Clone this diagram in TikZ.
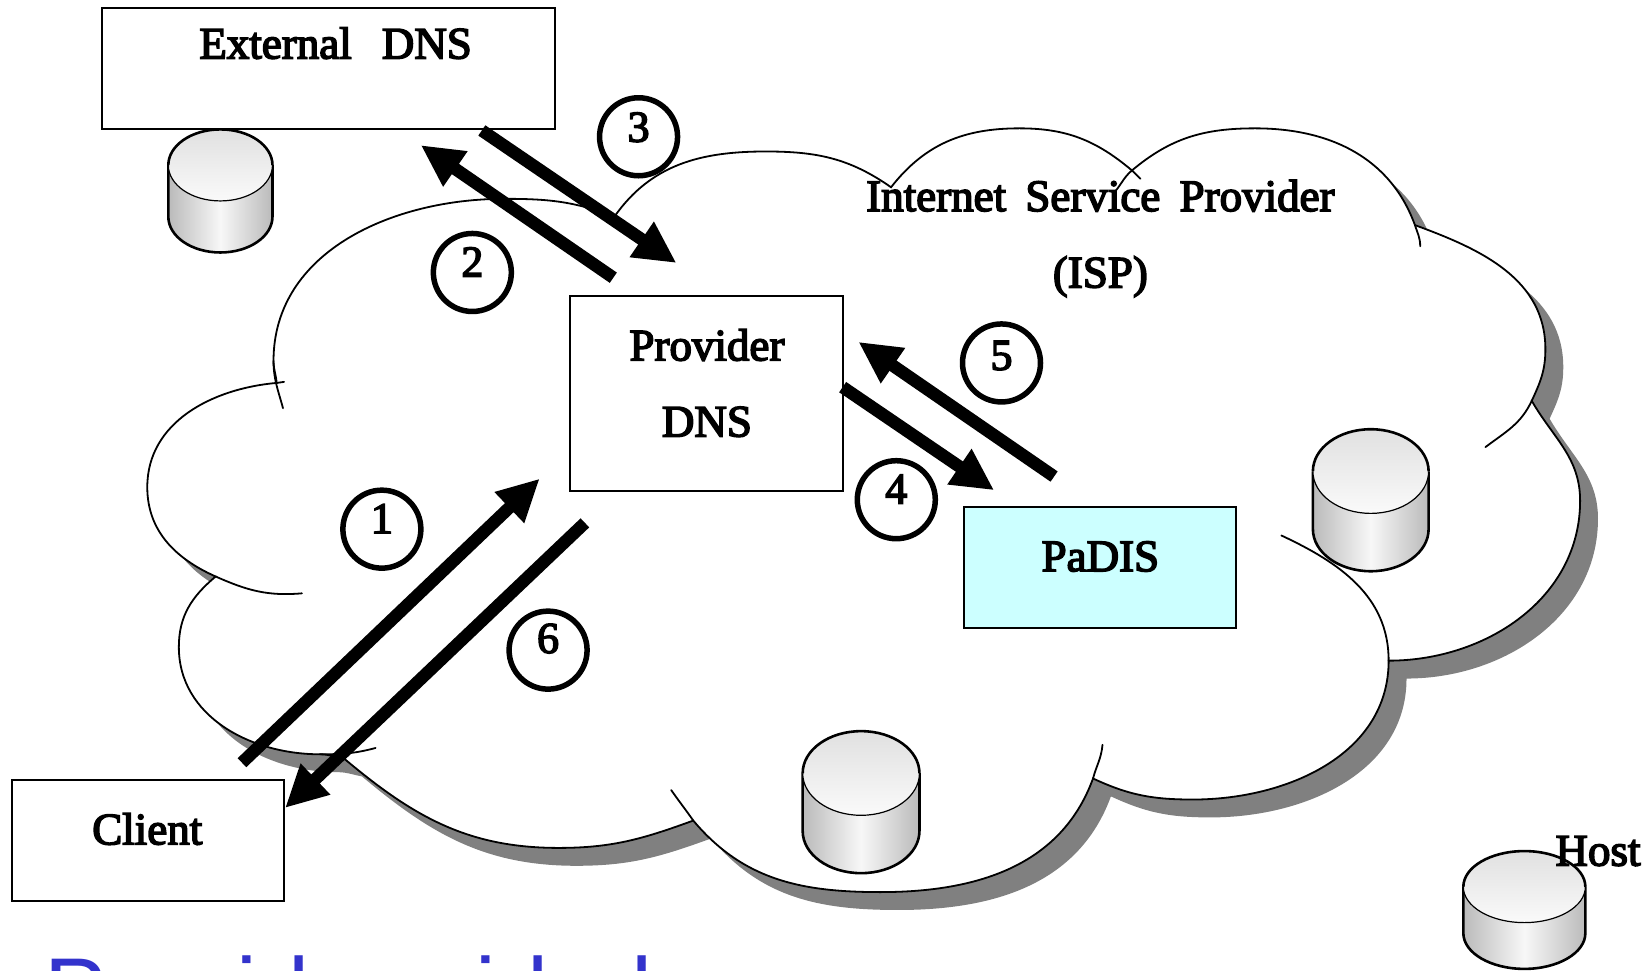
\documentclass[tikz,border=0pt]{standalone}
\usepackage{fontspec}
\setmainfont[FakeBold=3.5]{Liberation Serif}
\newfontfamily\bluefont{Liberation Sans}
\usetikzlibrary{arrows.meta}
\definecolor{shadowgray}{HTML}{808080}
\definecolor{padiscyan}{HTML}{CCFFFF}
\definecolor{titleblue}{HTML}{3333CC}
\tikzset{
  boxnode/.style={draw=black,line width=2pt,fill=white,inner sep=0pt,outer sep=0pt},
  lbl/.style={inner sep=0pt,font=\fontsize{45}{50}\selectfont},
  numcircle/.style={draw=black,line width=5.5pt,fill=white,circle,minimum size=78pt,inner sep=0pt},
  numtext/.style={inner sep=0pt,font=\fontsize{44}{50}\selectfont},
  bigarrow/.style={line width=12.5pt,draw=black,-{Triangle[length=42pt,width=40pt]}},
  lobe/.style={draw=black,line width=1.8pt,line cap=round}
}
\newcommand{\cyl}[5]{% cx, cy(top centre), rx, ry, h
  \path[left color=black!27,right color=black!27,middle color=black!3]
    ({#1-#3},{#2}) -- ({#1-#3},{#2+#5})
    .. controls ({#1-#3},{#2+#5+0.5523*#4}) and ({#1-0.5523*#3},{#2+#5+#4}) .. ({#1},{#2+#5+#4})
    .. controls ({#1+0.5523*#3},{#2+#5+#4}) and ({#1+#3},{#2+#5+0.5523*#4}) .. ({#1+#3},{#2+#5})
    -- ({#1+#3},{#2}) -- cycle;
  \draw[line width=2.6pt]
    ({#1-#3},{#2}) -- ({#1-#3},{#2+#5})
    .. controls ({#1-#3},{#2+#5+0.5523*#4}) and ({#1-0.5523*#3},{#2+#5+#4}) .. ({#1},{#2+#5+#4})
    .. controls ({#1+0.5523*#3},{#2+#5+#4}) and ({#1+#3},{#2+#5+0.5523*#4}) .. ({#1+#3},{#2+#5})
    -- ({#1+#3},{#2});
  \path[top color=black!12,bottom color=black!2]
    ({#1-#3},{#2})
    .. controls ({#1-#3},{#2-0.5523*#4}) and ({#1-0.5523*#3},{#2-#4}) .. ({#1},{#2-#4})
    .. controls ({#1+0.5523*#3},{#2-#4}) and ({#1+#3},{#2-0.5523*#4}) .. ({#1+#3},{#2})
    .. controls ({#1+#3},{#2+0.5523*#4}) and ({#1+0.5523*#3},{#2+#4}) .. ({#1},{#2+#4})
    .. controls ({#1-0.5523*#3},{#2+#4}) and ({#1-#3},{#2+0.5523*#4}) .. cycle;
  \draw[line width=2.6pt]
    ({#1-#3},{#2})
    .. controls ({#1-#3},{#2-0.5523*#4}) and ({#1-0.5523*#3},{#2-#4}) .. ({#1},{#2-#4})
    .. controls ({#1+0.5523*#3},{#2-#4}) and ({#1+#3},{#2-0.5523*#4}) .. ({#1+#3},{#2});
  \draw[line width=1.2pt]
    ({#1-#3},{#2})
    .. controls ({#1-#3},{#2+0.5523*#4}) and ({#1-0.5523*#3},{#2+#4}) .. ({#1},{#2+#4})
    .. controls ({#1+0.5523*#3},{#2+#4}) and ({#1+#3},{#2+0.5523*#4}) .. ({#1+#3},{#2});
}
\newcommand{\cloudpath}{%
  (584,206) to[out=-305,in=-180] (728,144) to[out=0,in=-215] (847,178)
  to[out=-308,in=-180] (969,122) to[out=0,in=-220] (1076,162)
  to[out=-320,in=-180] (1193,122) to[out=0,in=-250] (1345,214)
  to[out=-20,in=-270] (1469,332) to[out=-90,in=-295] (1456,381)
  to[out=-60,in=-270] (1502,476) to[out=-90,in=0] (1320,628)
  to[out=-90,in=0] (1134,760) to[out=-180,in=-25] (1039,740)
  to[out=-110,in=0] (837,848) to[out=-180,in=-50] (659,780)
  to[out=-160,in=0] (531,806) to[out=-180,in=-40] (327,721) to[out=-190,in=0] (304,717)
  to[out=-180,in=-90] (170,615) to[out=-270,in=-140] (205,548)
  to[out=-204,in=-90] (140,463) to[out=-270,in=-175] (263,364)
  to[out=-265,in=-90] (260,343) to[out=-270,in=-180] (479,189) to[out=0,in=-201] (584,206)
}
\begin{document}
\begin{tikzpicture}[x=1.052pt,y=-1.052pt]
\useasboundingbox (0,0) rectangle (1567.5,923);
\clip (0,0) rectangle (1567.5,923);
% cloud shadow and body
\fill[shadowgray,shift={(17,17)}] \cloudpath -- cycle;
\fill[white] \cloudpath -- cycle;
\draw[lobe] \cloudpath;
% lobe tails
\draw[lobe] (1345,214) to[out=-72,in=-270] (1350,234);
\draw[lobe] (1456,381) to[out=-115,in=-323] (1412,425);
\draw[lobe] (1218,509) to[out=-25,in=-270] (1320,628);
\draw[lobe] (1039,740) to[out=-285,in=-95] (1048,708);
\draw[lobe] (659,780) to[out=-235,in=-55] (638,751);
\draw[lobe] (304,717) to[out=0,in=-165] (357,711);
\draw[lobe] (205,548) to[out=-24,in=-175] (287,564);
\draw[lobe] (260,343) to[out=-90,in=-255] (269,388);
\draw[lobe] (263,364) -- (270,363);
\draw[lobe] (1076,162) to[out=-45,in=-225] (1084,170);
\draw[lobe] (1076,162) to[out=-140,in=-310] (1060,182);
% cylinders
\cyl{209.5}{157}{49.5}{34}{49}
\cyl{1303}{448}{55}{40}{55}
\cyl{818.5}{735}{55.5}{40}{55}
\cyl{1449}{843}{58}{34}{44}
% boxes
\node[boxnode,minimum width=453.4pt,minimum height=121pt] (ext) at (312.5,65.5) {};
\node[boxnode,minimum width=272.5pt,minimum height=195.7pt] (prov) at (671.5,374) {};
\node[boxnode,fill=padiscyan,minimum width=272.5pt,minimum height=121pt] (padis) at (1045.5,539.5) {};
\node[boxnode,minimum width=272.5pt,minimum height=121pt] (client) at (140.5,798.5) {};
% labels
\node[lbl] (textext) at (319,41) {External\,\,\,\,DNS};
\node[lbl] (textisp) at (1046,186) {Internet\hspace{8pt} Service\hspace{8pt} Provider};
\node[lbl] (textisp2) at (1046,263) {(ISP)};
\node[lbl] (textprov) at (672,328) {Provider};
\node[lbl] (textdns) at (672,401) {DNS};
\node[lbl] (textpadis) at (1046,529) {PaDIS};
\node[lbl] (textclient) at (140,788) {Client};
\node[lbl] (texthost) at (1519,809) {Host};
% arrow end points
\coordinate (a1s) at (230,725); \coordinate (a1e) at (513,455);
\coordinate (a2s) at (583,264); \coordinate (a2e) at (400,138);
\coordinate (a3s) at (458,124); \coordinate (a3e) at (643,250);
\coordinate (a4s) at (801,368); \coordinate (a4e) at (945,466);
\coordinate (a5s) at (1002,453); \coordinate (a5e) at (816,325);
\coordinate (a6s) at (556,497); \coordinate (a6e) at (271,768);
\draw[bigarrow] (a1s) -- (a1e);
\draw[bigarrow] (a2s) -- (a2e);
\draw[bigarrow] (a3s) -- (a3e);
\draw[bigarrow] (a4s) -- (a4e);
\draw[bigarrow] (a5s) -- (a5e);
\draw[bigarrow] (a6s) -- (a6e);
% numbered circles
\node[numcircle] (c1) at (363,503) {};
\node[numcircle] (c2) at (449,259) {};
\node[numcircle] (c3) at (607,130) {};
\node[numcircle] (c4) at (852,475) {};
\node[numcircle] (c5) at (952,345) {};
\node[numcircle] (c6) at (521,618) {};
\node[numtext] (n1) at (363,493) {1};
\node[numtext] (n2) at (449,249) {2};
\node[numtext] (n3) at (607,121) {3};
\node[numtext] (n4) at (852,465) {4};
\node[numtext] (n5) at (952,338) {5};
\node[numtext] (n6) at (521,607) {6};
% cut-off title
\node[anchor=base west,inner sep=0pt,text=titleblue,font=\bluefont\fontsize{93.5}{100}\selectfont] (title) at (42,973) {Provider-aided};
\end{tikzpicture}
\end{document}
